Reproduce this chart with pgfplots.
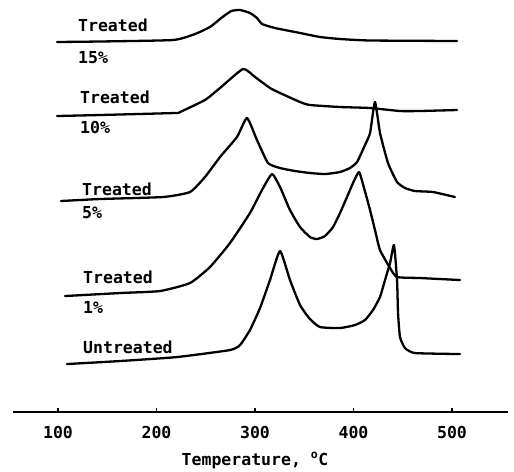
\documentclass[border=0pt]{standalone}
\usepackage{fontspec}
\setmainfont{DejaVu Sans Mono}
\usepackage{pgfplots}
\pgfplotsset{compat=1.18}
\newcommand\lbl{\fontsize{16.5}{19}\selectfont\bfseries}

\begin{document}
\begin{tikzpicture}
\begin{axis}[
  scale only axis, width=495pt, height=412pt,
  xmin=54.3, xmax=556.9, ymin=0, ymax=412,
  clip=false,
  axis x line*=bottom, axis y line=none,
  axis line style={line width=1.9pt},
  xtick={100,200,300,400,500}, ytick=\empty,
  tick align=inside, major tick length=4pt,
  x tick style={line width=1.4pt, black},
  xticklabel style={font=\lbl, anchor=base, yshift=-26.5pt},
  /pgf/number format/assume math mode=true,
  trace/.style={black, line width=2.3pt, line join=round, line cap=round, no markers,
    smooth, tension=0.3},
]
% page extent
\path (axis cs:41.12,-59) rectangle (axis cs:562.94,412);

% Treated 15%
\addplot[trace] coordinates {(99.0,370) (142.6,370.5) (217,372) (239.1,378) (254.3,385) (267,395)
  (276,401) (284.8,402) (294.9,399) (302.0,394) (307.1,388) (320.3,384) (345.7,379)
  (366.0,375) (386.3,373) (416.8,371.5) (505.1,371)};
% Treated 10%
\addplot[trace] coordinates {(99.0,296) (142.6,297) (218.8,299) (223.9,300) (249.2,312) (264.5,324)
  (287.8,343) (300.0,335) (315.2,324) (325.4,319) (345.7,310) (355.8,307) (386.3,305)
  (416.8,304) (447.2,301) (467.5,301) (505.1,302)};
% Treated 5%
\addplot[trace] coordinates {(103.0,211) (142.6,213) (206.6,215) (234.0,220) (249.2,235) (264.5,255)
  (281.7,275) (291.9,294) (302.0,272) (313.2,249) (325.4,244) (340.6,241) (355.8,239)
  (371.1,238) (386.3,240) (396.4,244) (403.6,250) (411.7,267) (416.8,279) (421.8,310)
  (426.9,279) (435.0,249) (444.2,230) (452.3,224) (462.4,221) (480.7,220) (503.0,215)};
% Treated 1%
\addplot[trace] coordinates {(107.1,116) (162.9,119) (203.6,121) (234.0,129) (254.3,145) (274.6,169)
  (294.9,199) (307.1,222) (317.3,238) (325.4,225) (335.5,202) (345.7,185) (355.8,175)
  (362.9,173) (371.1,176) (379.2,185) (386.3,199) (393.4,215) (399.5,229) (405.6,240)
  (410.7,224) (416.8,202) (421.8,182) (426.9,162) (437.1,144) (444.2,135) (467.5,134)
  (508.1,132)};
% Untreated
\addplot[trace] coordinates {(109.1,48) (162.9,51) (220.8,55) (274.6,62) (284.8,67) (294.9,82)
  (305.1,104) (315.2,132) (325.4,161) (335.5,132) (345.7,107) (355.8,93) (366.0,85)
  (386.3,84) (401.5,87) (411.7,92) (419.8,102) (426.9,115) (432.0,132) (437.1,149)
  (441.1,167) (444.2,132) (445.2,99) (447.2,75) (452.3,64) (462.4,59) (508.1,58)};

% curve labels
\begin{scope}[every node/.style={anchor=base west, inner sep=0pt, font=\lbl}]
\node at (axis cs:120.3,380) {Treated};
\node at (axis cs:120.3,349) {15\%};
\node at (axis cs:122.3,309) {Treated};
\node at (axis cs:122.3,279) {10\%};
\node at (axis cs:124.4,217) {Treated};
\node at (axis cs:124.4,194) {5\%};
\node at (axis cs:125.4,129) {Treated};
\node at (axis cs:125.4,99) {1\%};
\node at (axis cs:125.4,59) {Untreated};
\end{scope}
\node[anchor=base, inner sep=0pt, font=\lbl] at (axis cs:300,-53)
  {Temperature, \textsuperscript{o}C};
\end{axis}
\end{tikzpicture}
\end{document}
